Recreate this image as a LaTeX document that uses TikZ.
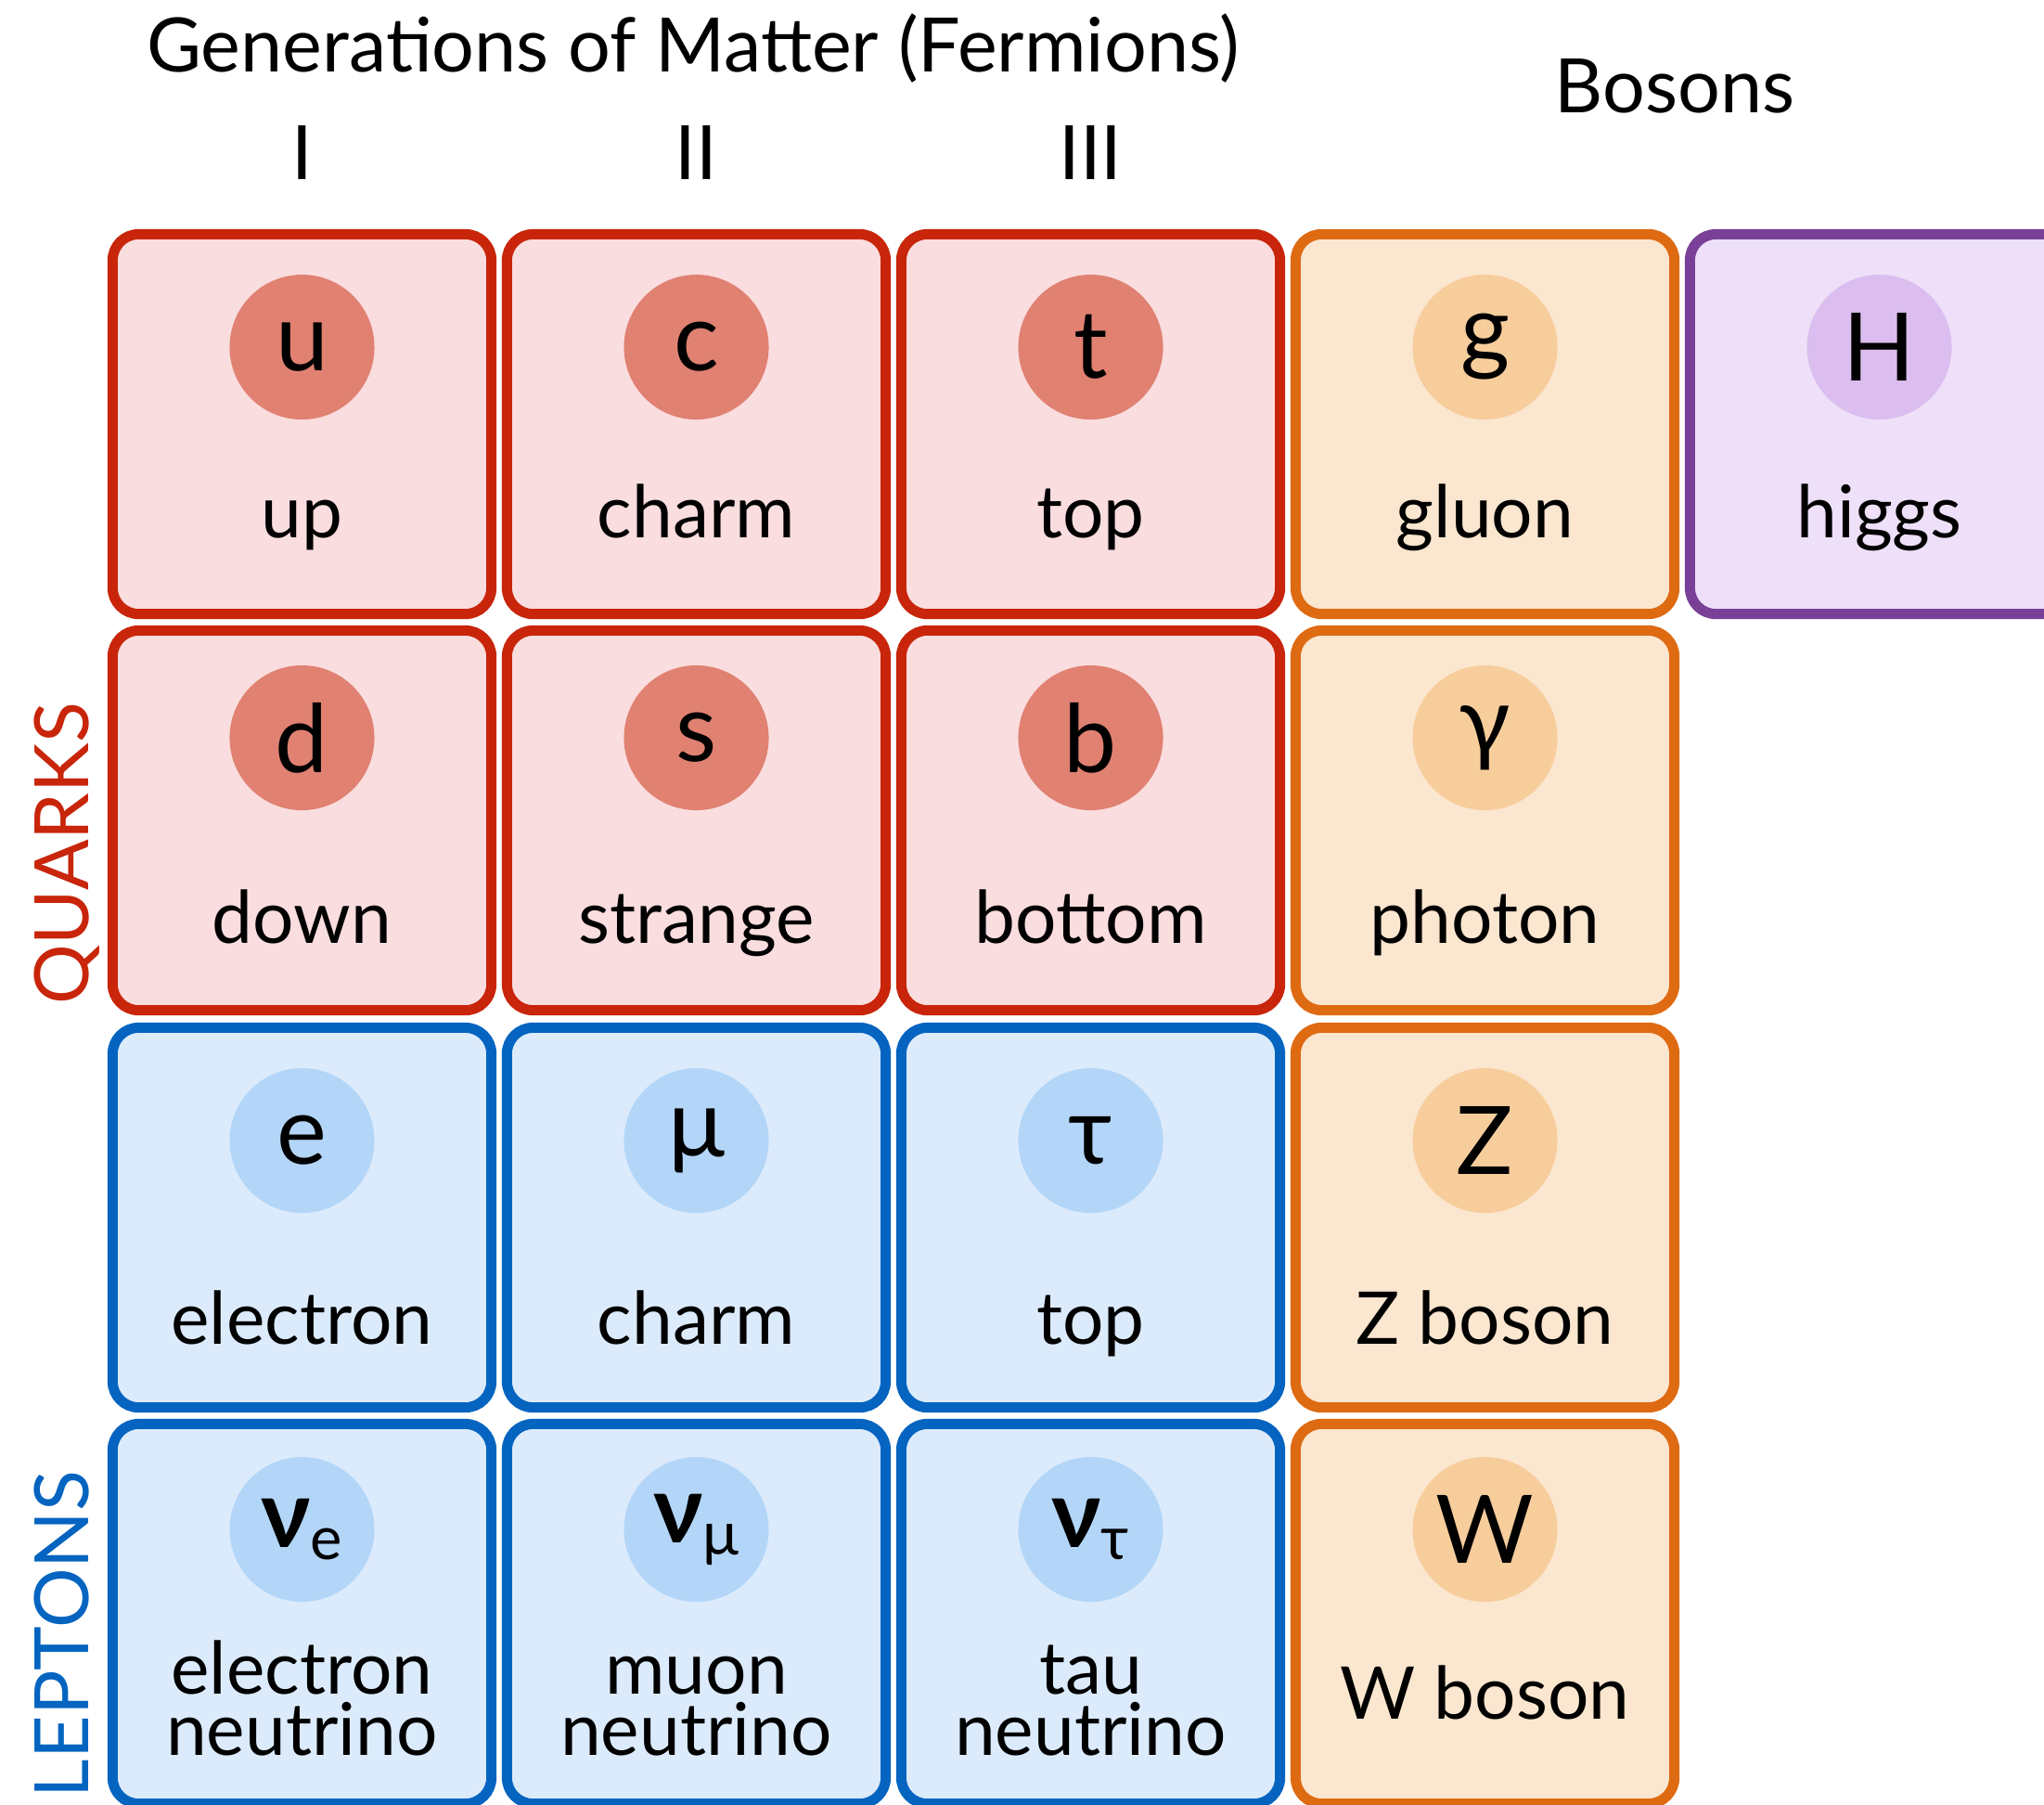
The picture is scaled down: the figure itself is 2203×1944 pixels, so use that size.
\documentclass[tikz,border=0pt]{standalone}
\usepackage{fontspec}
\setmainfont{Lato}
\usetikzlibrary{math}
\definecolor{quarkline}{RGB}{200,37,10}
\definecolor{quarkfill}{RGB}{250,221,222}
\definecolor{quarkdot}{RGB}{224,129,114}
\definecolor{leptonline}{RGB}{4,100,192}
\definecolor{leptonfill}{RGB}{220,235,252}
\definecolor{leptondot}{RGB}{179,214,248}
\definecolor{bosonline}{RGB}{222,106,18}
\definecolor{bosonfill}{RGB}{251,230,207}
\definecolor{bosondot}{RGB}{247,205,156}
\definecolor{higgsline}{RGB}{122,64,152}
\definecolor{higgsfill}{RGB}{238,224,248}
\definecolor{higgsdot}{RGB}{219,190,239}

% one cell: name, x, y of centre, kind, y of dot, symbol, y of label, label
\newcommand{\particle}[8]{%
\node[#4box] (#1) at (#2,#3) {};
\node[#4dot] (#1sym) at (#2,#5) {#6};
\node[partname] (#1name) at (#2,#7) {#8};
}
\newcommand{\nusym}[1]{{\bfseries ν}\raisebox{-0.13cm}{\fontsize{18.5}{20}\selectfont #1}}

\begin{document}
\begin{tikzpicture}[x=0.01cm,y=-0.01cm,
cell/.style={rectangle, rounded corners=0.28cm, line width=0.11cm,
  minimum width=4.08cm, minimum height=4.09cm, inner sep=0pt},
quarkbox/.style={cell, draw=quarkline, fill=quarkfill},
leptonbox/.style={cell, draw=leptonline, fill=leptonfill},
bosonbox/.style={cell, draw=bosonline, fill=bosonfill},
higgsbox/.style={cell, draw=higgsline, fill=higgsfill},
dot/.style={circle, minimum size=1.56cm, inner sep=0pt,
  font=\fontsize{29}{34}\selectfont},
quarkdot/.style={dot, fill=quarkdot},
leptondot/.style={dot, fill=leptondot},
bosondot/.style={dot, fill=bosondot},
higgsdot/.style={dot, fill=higgsdot},
partname/.style={anchor=base, align=center, inner sep=0pt,
  font=\fontsize{22.3}{18.5}\selectfont},
head/.style={anchor=base, inner sep=0pt, font=\fontsize{23}{27}\selectfont},
side/.style={head, rotate=90}]
\tikzmath{
\cA=325.5; \cB=750.5; \cC=1175.5; \cD=1600.5; \cE=2025.5;
}
\clip (0,0) rectangle (2203,1944);

% headings
\node[head] (gen) at (747,77) {Generations of Matter (Fermions)};
\node[head] (bos) at (1805,121) {Bosons};
\node[head] (genI) at (\cA,193) {I};
\node[head] (genII) at (\cB,193) {II};
\node[head] (genIII) at (\cC,193) {III};
\node[side, text=quarkline] (quarks) at (95,920) {QUARKS};
\node[side, text=leptonline] (leptons) at (95,1761) {LEPTONS};

% row 1
\particle{up}{\cA}{457}{quark}{374}{u}{579}{up}
\particle{charm}{\cB}{457}{quark}{374}{c}{579}{charm}
\particle{top}{\cC}{457}{quark}{374}{t}{579}{top}
\particle{gluon}{\cD}{457}{boson}{374}{g}{579}{gluon}
\particle{higgs}{\cE}{457}{higgs}{374}{H}{579}{higgs}
% row 2
\particle{down}{\cA}{884}{quark}{795}{d}{1016}{down}
\particle{strange}{\cB}{884}{quark}{795}{s}{1016}{strange}
\particle{bottom}{\cC}{884}{quark}{795}{b}{1016}{bottom}
\particle{photon}{\cD}{884}{boson}{795}{γ}{1016}{photon}
% row 3
\particle{electron}{\cA}{1312}{lepton}{1229}{e}{1448}{electron}
\particle{muon}{\cB}{1312}{lepton}{1229}{μ}{1448}{charm}
\particle{tau}{\cC}{1312}{lepton}{1229}{τ}{1448}{top}
\particle{zboson}{\cD}{1312}{boson}{1229}{Z}{1448}{Z boson}
% row 4 (base of a two-line label is its last line)
\particle{nue}{\cA}{1739}{lepton}{1648}{\nusym{e}}{1891}{electron\\neutrino}
\particle{numu}{\cB}{1739}{lepton}{1648}{\nusym{μ}}{1891}{muon\\neutrino}
\particle{nutau}{\cC}{1739}{lepton}{1648}{\nusym{τ}}{1891}{tau\\neutrino}
\particle{wboson}{\cD}{1739}{boson}{1648}{W}{1852}{W boson}
\end{tikzpicture}
\end{document}
